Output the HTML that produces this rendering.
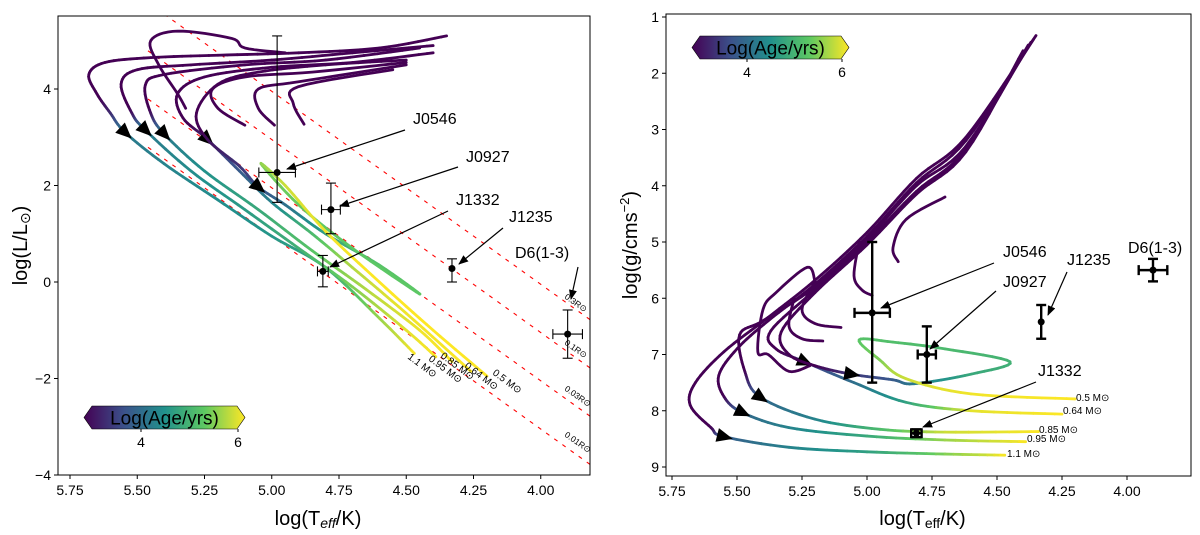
<!DOCTYPE html>
<html><head><meta charset="utf-8"><style>
html,body{margin:0;padding:0;background:#fff;width:1200px;height:535px;overflow:hidden;}
svg{display:block;font-family:"Liberation Sans","DejaVu Sans",sans-serif;}
</style></head><body>
<svg id="fig" width="1200" height="535" viewBox="0 0 1200 535" xmlns="http://www.w3.org/2000/svg">
<defs>
<clipPath id="clipL"><rect x="58" y="16" width="532" height="459"/></clipPath>
<clipPath id="clipR"><rect x="666" y="14" width="525" height="462"/></clipPath>
<linearGradient id="vir" x1="0" x2="1" y1="0" y2="0">
<stop offset="0" stop-color="#440154"/><stop offset="0.25" stop-color="#3b528b"/><stop offset="0.5" stop-color="#21918c"/><stop offset="0.75" stop-color="#5ec962"/><stop offset="1" stop-color="#fde725"/>
</linearGradient>
<marker id="ah" markerWidth="10" markerHeight="8" refX="9" refY="4" orient="auto" markerUnits="userSpaceOnUse"><path d="M0,0 L10,4 L0,8 z" fill="#000"/></marker>
</defs>
<g id="left"></g>
<g id="right"></g>
</svg>
<script>
// ---- data ----
const massLabels = ["1.1","0.95","0.85","0.64","0.5"];
const trkT_L = [
 [4.35,4.6,4.9,5.2,5.45,5.62,5.68,5.65,5.6,5.545,5.4,5.2,5.0,4.8,4.6,4.47],
 [4.4,4.7,5.0,5.3,5.5,5.56,5.52,5.47,5.3,5.1,4.9,4.7,4.5,4.39],
 [4.45,4.8,5.1,5.4,5.47,5.45,5.4,5.25,5.05,4.85,4.65,4.45,4.33],
 [4.4,4.7,5.0,5.25,5.35,5.33,5.24,5.12,5.0,4.85,4.7,4.5,4.26],
 [4.5,4.8,5.05,5.2,5.28,5.24,5.12,5.05,4.95,4.8,4.6,4.45,4.7,4.9,5.04,4.95,4.8,4.6,4.4,4.2]
];
const trkL = [
 [5.1,4.85,4.75,4.7,4.65,4.55,4.3,3.9,3.5,3.1,2.45,1.7,0.95,0.3,-0.75,-1.48],
 [4.9,4.75,4.6,4.5,4.4,4.1,3.5,3.15,2.3,1.5,0.7,-0.1,-1.0,-1.55],
 [4.85,4.6,4.5,4.3,4.08,3.5,3.07,2.3,1.5,0.65,-0.15,-1.0,-1.65],
 [4.75,4.55,4.45,4.25,3.9,3.4,2.96,2.3,1.65,1.0,0.3,-0.65,-1.85],
 [4.6,4.5,4.35,4.1,3.5,2.96,2.4,1.97,1.6,1.0,0.35,-0.25,0.7,1.6,2.45,2.0,1.05,0.0,-1.0,-1.95]
];
const ageL = [
 [2.5,2.6,2.7,2.8,2.9,3,3.1,3.4,3.8,4.5,4.6,4.7,4.8,5.0,5.6,6],
 [2.5,2.6,2.7,2.8,2.9,3.2,3.6,4.5,4.7,4.85,5.1,5.5,5.9,6],
 [2.5,2.7,2.8,2.9,3.1,3.6,4.5,4.75,5.0,5.3,5.7,5.95,6],
 [2.5,2.7,2.8,2.9,3.1,3.3,3.8,4.2,4.6,5.2,5.7,5.95,6],
 [2.5,2.7,2.8,3,3.2,3.6,3.9,4.1,4.4,4.9,5.3,5.35,5.35,5.4,5.5,5.8,5.95,6,6,6]
];
const arrowL = [9,7,6,6,7];
const hookT_L = [[4.5,4.85,5.1,5.22,5.2,5.1],[4.5,4.9,5.05,5.05,4.99],[4.55,4.9,4.92,4.88],[4.95,5.1,5.15,5.35,5.45,5.42,5.35,5.32]];
const hookL = [[4.55,4.35,4.25,4.0,3.6,3.25],[4.5,4.15,4.0,3.6,3.25],[4.4,4.05,3.7,3.27],[4.75,4.85,5.05,5.2,5.0,4.5,3.9,3.6]];

const trkT_G = [
 [4.35,4.62,4.81,5.0,5.2,5.38,5.55,5.66,5.68,5.6,5.55,5.3,5.0,4.7,4.47],
 [4.36,4.62,4.81,5.0,5.2,5.38,5.5,5.57,5.55,5.48,5.3,5.0,4.7,4.39],
 [4.37,4.62,4.81,5.0,5.2,5.4,5.49,5.47,5.41,5.2,4.95,4.7,4.34],
 [4.38,4.62,4.81,5.0,5.2,5.37,5.35,5.24,5.05,4.85,4.6,4.25],
 [4.4,4.62,4.81,5.0,5.2,5.33,5.3,5.2,5.06,4.9,4.82,4.6,4.45,4.7,4.9,5.03,4.95,4.85,4.6,4.2]
];
const trkG = [
 [1.33,3.14,3.87,4.83,5.68,6.34,6.95,7.5,7.9,8.3,8.46,8.65,8.73,8.77,8.79],
 [1.4,3.2,3.95,4.9,5.75,6.4,6.9,7.37,7.75,8.03,8.3,8.45,8.52,8.55],
 [1.45,3.3,4.0,4.95,5.8,6.4,6.65,7.3,7.76,8.15,8.33,8.38,8.37],
 [1.5,3.35,4.1,5.0,5.85,6.58,6.9,7.13,7.5,7.85,8.0,8.06],
 [1.6,3.4,4.15,5.05,5.9,6.6,7.0,7.2,7.35,7.45,7.52,7.35,7.13,6.9,6.78,6.74,7.1,7.43,7.7,7.79]
];
const ageG = [
 [2.5,2.6,2.7,2.8,2.9,3,3.1,3.2,3.3,3.5,4.2,4.6,4.9,5.5,6],
 [2.5,2.6,2.7,2.8,2.9,3,3.1,3.2,3.5,4.3,4.6,5.0,5.6,6],
 [2.5,2.6,2.7,2.8,2.9,3,3.1,3.5,4.3,4.6,5.2,5.8,6],
 [2.5,2.6,2.7,2.8,2.9,3,3.3,3.9,4.4,4.9,5.9,6],
 [2.5,2.6,2.7,2.8,2.9,3,3.2,3.5,3.9,4.2,4.5,5.0,5.1,5.2,5.25,5.3,5.5,5.8,5.95,6]
];
const arrowG = [10,9,8,7,8];
const hookT_G = [[4.7,4.85,4.9,4.88],[5.03,5.05,5.02,4.98],[5.2,5.25,5.2,5.1],[5.28,5.3,5.25,5.17],[5.2,5.23,5.35,5.4,5.42,5.38,5.3,5.22]];
const hookG = [[4.2,4.6,5.1,5.35],[5.0,5.6,5.85,5.95],[5.7,6.2,6.45,6.52],[6.0,6.5,6.72,6.76],[5.7,5.45,5.9,6.2,6.95,7.0,7.3,7.2]];

const objNames = ["J0546","J0927","J1332","J1235","D6(1-3)"];
const objT = [4.98,4.78,4.81,4.33,3.9];
const objTerr = [0.068,0.035,0.02,0,0.055];
const objL = [2.27,1.5,0.22,0.28,-1.08];
const objLlo = [1.65,1.0,-0.1,0.0,-1.58];
const objLhi = [5.1,2.05,0.55,0.48,-0.58];
const objT_G = [4.98,4.77,4.81,4.33,3.9];
const objG = [6.26,7.0,8.4,6.42,5.5];
const objGlo = [5.0,6.5,8.33,6.12,5.3];
const objGhi = [7.5,7.5,8.47,6.72,5.7];
const radiusLogR = [-0.5,-1,-1.5,-2];
const radiusNames = ["0.3R","0.1R","0.03R","0.01R"];
const xTicks = [5.75,5.5,5.25,5.0,4.75,4.5,4.25,4.0];
const lTicks = [4,2,0,-2,-4];
const gTicks = [1,2,3,4,5,6,7,8,9];

// ---- scales ----
const xL = t => 70 + (5.75 - t) * 269;
const yL = L => 282 - L * 48.25;
const xR = t => 672 + (5.75 - t) * 260;
const yR = g => 17 + (g - 1) * 56.25;

const NS = "http://www.w3.org/2000/svg";
function mk(tag, attrs, parent) {
  const e = document.createElementNS(NS, tag);
  for (const k in attrs) e.setAttribute(k, attrs[k]);
  parent.appendChild(e); return e;
}
const stops = [[68,1,84],[59,82,139],[33,145,140],[94,201,98],[253,231,37]];
function vir(age) {
  let f = (age - 3.5) / 2.5; f = Math.max(0, Math.min(1, f));
  const p = f * 4, i = Math.min(3, Math.floor(p)), r = p - i;
  const c = stops[i].map((v, k) => Math.round(v + (stops[i + 1][k] - v) * r));
  return `rgb(${c[0]},${c[1]},${c[2]})`;
}
function cr(p0, p1, p2, p3, u) {
  const u2 = u * u, u3 = u2 * u;
  return 0.5 * (2 * p1 + (-p0 + p2) * u + (2 * p0 - 5 * p1 + 4 * p2 - p3) * u2 + (-p0 + 3 * p1 - 3 * p2 + p3) * u3);
}
function smooth(xs, ys, n) {
  const out = [];
  for (let i = 0; i < xs.length - 1; i++) {
    const a = Math.max(0, i - 1), d = Math.min(xs.length - 1, i + 2);
    for (let s = 0; s < n; s++) {
      const u = s / n;
      out.push([cr(xs[a], xs[i], xs[i + 1], xs[d], u), cr(ys[a], ys[i], ys[i + 1], ys[d], u), i, u]);
    }
  }
  out.push([xs[xs.length - 1], ys[ys.length - 1], xs.length - 2, 1]);
  return out;
}

function drawTracks(clip, sx, sy, tracksT, tracksY, ages, arrows, hooksT, hooksY) {
  hooksT.forEach((ts, h) => {
    const pts = smooth(ts.map(sx), hooksY[h].map(sy), 8).map(p => p[0] + "," + p[1]).join(" ");
    const pl = mk("polyline", {points: pts, fill: "none", stroke: "#440154", "stroke-width": 2.8, "stroke-linejoin": "round", "stroke-linecap": "round"}, clip);
    
    
  });
  tracksT.forEach((ts, k) => {
    const tg = mk("g", {}, clip);
    
    
    const pts = smooth(ts.map(sx), tracksY[k].map(sy), 8);
    for (let j = 0; j < pts.length - 1; j++) {
      const p = pts[j], q = pts[j + 1];
      const i = p[2], u = p[3] + 1 / 16;
      const ag = ages[k][i] + (ages[k][i + 1] - ages[k][i]) * Math.min(1, u);
      mk("line", {x1: p[0], y1: p[1], x2: q[0], y2: q[1], stroke: vir(ag), "stroke-width": 2.8, "stroke-linecap": "round"}, tg);
    }
    const ai = arrows[k];
    const px = sx(ts[ai]), py = sy(tracksY[k][ai]);
    const dx = sx(ts[ai + 1]) - sx(ts[ai - 1]), dy = sy(tracksY[k][ai + 1]) - sy(tracksY[k][ai - 1]);
    const ang = Math.atan2(dy, dx) * 180 / Math.PI;
    const ar = mk("path", {d: "M9,0 L-7,-7 L-7,7 z", fill: "#000", transform: `translate(${px},${py}) rotate(${ang})`}, tg);
    
    
  });
}

function frame(g, x0, y0, w, h, sx, sy, yTicks, xLabelY, yLabel, yLabelX, subEff) {
  const fr = mk("rect", {x: x0, y: y0, width: w, height: h, fill: "none", stroke: "#000", "stroke-width": 1}, g);
  
  
  xTicks.forEach(t => {
    const x = sx(t);
    mk("line", {x1: x, y1: y0 + h, x2: x, y2: y0 + h + 4, stroke: "#000"}, g);
    const tx = mk("text", {x: x, y: y0 + h + 20, "text-anchor": "middle", "font-size": 14}, g);
    tx.textContent = t.toFixed(2);
    
    
  });
  yTicks.forEach(v => {
    const y = sy(v);
    mk("line", {x1: x0 - 4, y1: y, x2: x0, y2: y, stroke: "#000"}, g);
    const tx = mk("text", {x: x0 - 7, y: y + 5, "text-anchor": "end", "font-size": 14}, g);
    tx.textContent = v < 0 ? "\u2212" + Math.abs(v) : String(v);
    
    
  });
  const xl = mk("text", {x: x0 + w / 2 - 6, y: xLabelY, "text-anchor": "middle", "font-size": 20}, g);
  xl.innerHTML = subEff ? 'log(T<tspan font-size="14" font-style="italic" dy="3">eff</tspan><tspan dy="-3">/K)</tspan>' : 'log(T<tspan font-size="14" dy="3">eff</tspan><tspan dy="-3">/K)</tspan>';
  
  
  const yl = mk("text", {x: 0, y: 0, "text-anchor": "middle", "font-size": 20, transform: `translate(${yLabelX},${y0 + h / 2}) rotate(-90)`}, g);
  yl.innerHTML = yLabel;
  
  
}

function errbars(g, sx, sy, ts, terr, ys, lo, hi, w) {
  ts.forEach((t, i) => {
    const eg = mk("g", {}, g);
    
    
    const x = sx(t), y = sy(ys[i]);
    mk("line", {x1: x, y1: sy(lo[i]), x2: x, y2: sy(hi[i]), stroke: "#000", "stroke-width": w}, eg);
    mk("line", {x1: x - 5, y1: sy(lo[i]), x2: x + 5, y2: sy(lo[i]), stroke: "#000", "stroke-width": w}, eg);
    mk("line", {x1: x - 5, y1: sy(hi[i]), x2: x + 5, y2: sy(hi[i]), stroke: "#000", "stroke-width": w}, eg);
    if (terr[i] > 0) {
      const xa = sx(t - terr[i]), xb = sx(t + terr[i]);
      mk("line", {x1: xa, y1: y, x2: xb, y2: y, stroke: "#000", "stroke-width": w}, eg);
      mk("line", {x1: xa, y1: y - 5, x2: xa, y2: y + 5, stroke: "#000", "stroke-width": w}, eg);
      mk("line", {x1: xb, y1: y - 5, x2: xb, y2: y + 5, stroke: "#000", "stroke-width": w}, eg);
    }
    mk("circle", {cx: x, cy: y, r: 3.5, fill: "#000"}, eg);
  });
}

function annot(g, name, tx, ty, x1, y1, x2, y2, fs) {
  const t = mk("text", {x: tx, y: ty, "font-size": fs}, g);
  t.textContent = name;
  
  
  const l = mk("line", {x1: x1, y1: y1, x2: x2, y2: y2, stroke: "#000", "stroke-width": 1.2, "marker-end": "url(#ah)"}, g);
  
  
}

function colorbar(g, x0, y0, x1, y1, tick4, tick6) {
  const cb = mk("g", {}, g);
  
  
  const h = y1 - y0;
  mk("path", {d: `M${x0 + 8},${y0} L${x1 - 8},${y0} L${x1},${y0 + h / 2} L${x1 - 8},${y1} L${x0 + 8},${y1} L${x0},${y0 + h / 2} z`, fill: "url(#vir)", stroke: "#000", "stroke-width": 0.6}, cb);
  const lab = mk("text", {x: (x0 + x1) / 2, y: y0 + h / 2 + 7, "text-anchor": "middle", "font-size": 19}, cb);
  lab.textContent = "Log(Age/yrs)";
  [[tick4, "4"], [tick6, "6"]].forEach(([x, s]) => {
    mk("line", {x1: x, y1: y1, x2: x, y2: y1 + 3, stroke: "#000"}, cb);
    const t = mk("text", {x: x, y: y1 + 18, "text-anchor": "middle", "font-size": 14}, cb);
    t.textContent = s;
  });
}

// ---- left panel ----
const GL = document.getElementById("left");
const clipL = mk("g", {"clip-path": "url(#clipL)"}, GL);


radiusLogR.forEach(r => {
  const Lat = t => 2 * r + 4 * (t - 3.762);
  const ln = mk("line", {x1: xL(5.46), y1: yL(Lat(5.46)), x2: xL(3.7), y2: yL(Lat(3.7)), stroke: "#ff0000", "stroke-width": 1.1, "stroke-dasharray": "4,6"}, clipL);
  
  
});
drawTracks(clipL, xL, yL, trkT_L, trkL, ageL, arrowL, hookT_L, hookL);
errbars(GL, xL, yL, objT, objTerr, objL, objLlo, objLhi, 1.1);
frame(GL, 58, 16, 532, 459, xL, yL, lTicks, 525, 'log(L/L<tspan font-size="14" dy="3">\u2299</tspan><tspan dy="-3">)</tspan>', 27, true);
annot(GL, "J0546", 413, 124, 405, 130, 287, 169, 16);
annot(GL, "J0927", 466, 162, 458, 167, 340, 206, 16);
annot(GL, "J1332", 456, 205, 448, 211, 330, 267, 16);
annot(GL, "J1235", 509, 222, 503, 228, 459, 264, 16);
annot(GL, "D6(1-3)", 515, 258, 578, 267, 571, 299, 16);
[[407, 358, "1.1 M\u2299"], [428, 360, "0.95 M\u2299"], [440, 357, "0.85 M\u2299"], [464, 367, "0.64 M\u2299"], [492, 374, "0.5 M\u2299"]].forEach(([x, y, s]) => {
  const t = mk("text", {x: 0, y: 0, "font-size": 10, transform: `translate(${x},${y}) rotate(37)`}, GL);
  t.textContent = s;
  
  
});
radiusNames.forEach((s, i) => {
  const y = 298 + i * 46;
  const t = mk("text", {x: 0, y: 0, "font-size": 8.5, transform: `translate(564,${y}) rotate(35)`}, GL);
  t.textContent = s + "\u2299";
  
  
});
colorbar(GL, 84, 406, 245, 429, 141, 238);

// ---- right panel ----
const GR = document.getElementById("right");
const clipR = mk("g", {"clip-path": "url(#clipR)"}, GR);


drawTracks(clipR, xR, yR, trkT_G, trkG, ageG, arrowG, hookT_G, hookG);
errbars(GR, xR, yR, objT_G, objTerr, objG, objGlo, objGhi, 2.4);
frame(GR, 666, 14, 525, 462, xR, yR, gTicks, 525, 'log(g/cms<tspan font-size="13" dy="-8">\u22122</tspan><tspan dy="8">)</tspan>', 637, false);
annot(GR, "J0546", 1003, 257, 994, 263, 881, 308, 16);
annot(GR, "J0927", 1003, 287, 996, 291, 930, 349, 16);
annot(GR, "J1235", 1067, 265, 1067, 272, 1048, 315, 16);
annot(GR, "J1332", 1038, 376, 1036, 382, 923, 427, 16);
const d6 = mk("text", {x: 1128, y: 253, "font-size": 16}, GR);
d6.textContent = "D6(1-3)";


[[1076, 401, "0.5 M\u2299"], [1063, 414, "0.64 M\u2299"], [1039, 433, "0.85 M\u2299"], [1027, 442, "0.95 M\u2299"], [1007, 457, "1.1 M\u2299"]].forEach(([x, y, s]) => {
  const t = mk("text", {x: x, y: y, "font-size": 10}, GR);
  t.textContent = s;
  
  
});
colorbar(GR, 692, 36, 849, 59, 747, 842);
</script>
</body></html>
